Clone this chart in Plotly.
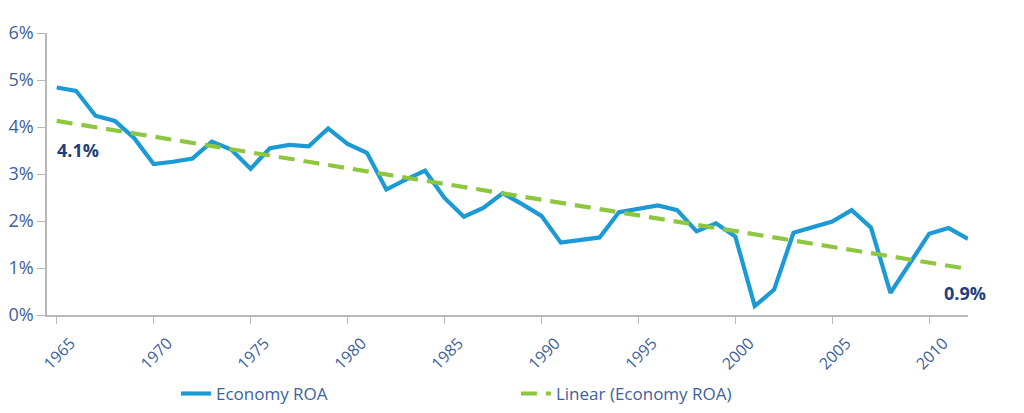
import plotly.graph_objects as go

# Data
years = list(range(1965, 2013))
roa = [4.84, 4.77, 4.24, 4.13, 3.76, 3.21, 3.26, 3.33, 3.69, 3.52,
       3.11, 3.55, 3.62, 3.59, 3.97, 3.64, 3.45, 2.67, 2.88, 3.07,
       2.49, 2.09, 2.28, 2.59, 2.36, 2.11, 1.54, 1.60, 1.65, 2.19,
       2.26, 2.33, 2.23, 1.78, 1.95, 1.67, 0.19, 0.54, 1.75, 1.87,
       1.99, 2.23, 1.86, 0.47, 1.10, 1.73, 1.85, 1.62]
trend_years = [1965, 2012]
trend_roa = [4.13, 0.98]
tick_years = [1965, 1970, 1975, 1980, 1985, 1990, 1995, 2000, 2005, 2010]
y_ticks = [0, 1, 2, 3, 4, 5, 6]

label_col = "#3d5f9e"
note_col = "#1f3f7a"

fig = go.Figure()
fig.add_trace(go.Scatter(x=years, y=roa, mode="lines", name="Economy ROA",
                         line=dict(color="#1b9ad6", width=4.2)))
fig.add_trace(go.Scatter(x=trend_years, y=trend_roa, mode="lines",
                         name="Linear (Economy ROA)",
                         line=dict(color="#8dc63f", width=4.2, dash="16px,9px")))

# end labels of the trend line
fig.add_annotation(x=1964.9, y=3.52, text="<b>4.1%</b>", showarrow=False,
                   xanchor="left", font=dict(size=18, color=note_col))
fig.add_annotation(x=1.022, xref="paper", y=0.46, text="<b>0.9%</b>",
                   showarrow=False, xanchor="right",
                   font=dict(size=18, color=note_col))

fig.update_layout(
    width=1024, height=413,
    margin=dict(l=47, r=56, t=33, b=98, autoexpand=False),
    paper_bgcolor="white", plot_bgcolor="white",
    font=dict(family="Open Sans", color=label_col),
    showlegend=True,
    legend=dict(orientation="h", x=0.140, xanchor="left", y=-0.28,
                yanchor="middle", font=dict(size=17, color=label_col),
                entrywidth=295, entrywidthmode="pixels"),
    xaxis=dict(range=[1964.5, 2012], tickvals=tick_years, tickangle=-45,
               automargin=False, ticklabelshift=14, ticklabelstandoff=4,
               showgrid=False, zeroline=False, showline=True,
               linecolor="#b8b8b8", linewidth=1.5, ticks="outside",
               ticklen=7, tickcolor="#b8b8b8", tickfont=dict(size=16)),
    yaxis=dict(range=[0, 6], tickvals=y_ticks, automargin=False,
               ticktext=[f"{v}%" for v in y_ticks],
               showgrid=False, zeroline=False, showline=True,
               linecolor="#b8b8b8", linewidth=1.5, ticks="outside",
               ticklen=8, tickcolor="#b8b8b8", tickfont=dict(size=18)),
)

# drop the default page margin so the figure fills the window exactly
fig.write_html("out.html", config={"displayModeBar": False},
               post_script="document.body.style.margin='0';"
                           "document.body.style.overflow='hidden';")
